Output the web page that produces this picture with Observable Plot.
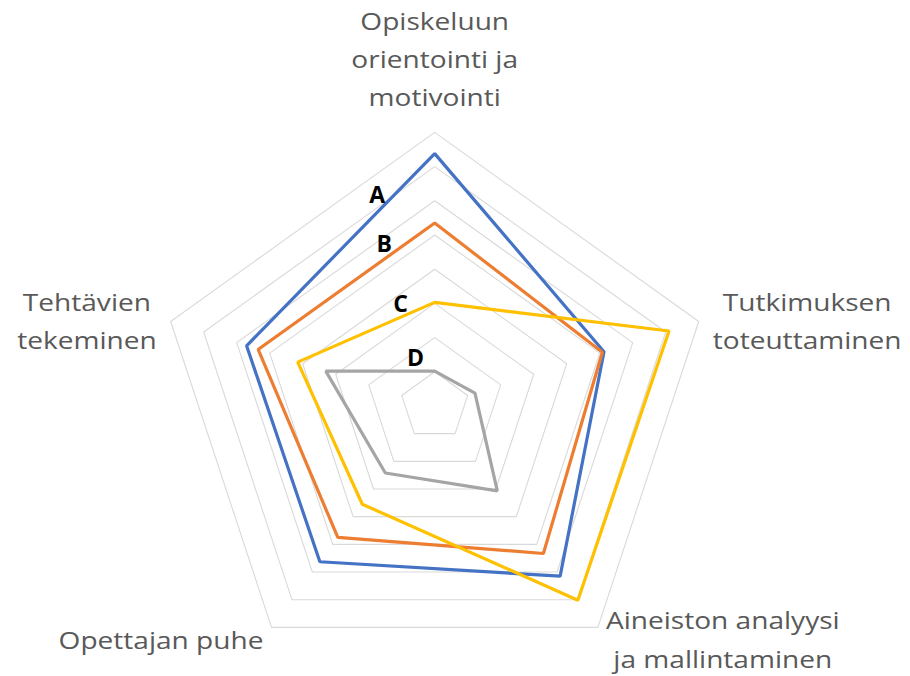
<!DOCTYPE html>
<html>
<head>
<meta charset="utf-8">
<script src="https://cdn.jsdelivr.net/npm/d3@7"></script>
<script src="https://cdn.jsdelivr.net/npm/@observablehq/plot@0.6"></script>
<style>
  html, body { margin: 0; padding: 0; background: #ffffff; }
  #chart svg { display: block; }
</style>
</head>
<body>
<div id="chart"></div>
<script>
// ---- Data ----
const categories = [
  "Opiskeluun\norientointi ja\nmotivointi",
  "Tutkimuksen\ntoteuttaminen",
  "Aineiston analyysi\nja mallintaminen",
  "Opettajan puhe",
  "Tehtävien\ntekeminen"
];
const seriesNames = ["A", "B", "C", "D"];
const valuesA = [7.38, 5.13, 6.15, 5.63, 5.70];
const valuesB = [5.35, 5.08, 5.33, 4.75, 5.35];
const valuesC = [3.03, 7.10, 7.02, 3.55, 4.15];
const valuesD = [1.02, 1.22, 3.07, 2.42, 3.30];
const gridLevels = [1, 2, 3, 4, 5, 6, 7, 8];
const seriesColors = ["#4472C4", "#ED7D31", "#FFC000", "#A5A5A5"];

// ---- Layout constants ----
const W = 910, H = 676;
const CX = 434.2, CY = 405.5;   // centre of the radar (px)
const UX = 34.7, UY = 34.2;     // px per unit
const FONT = "Open Sans";
const CAT_SIZE = 24, CAT_LH = 1.6, STRETCH = 1.17;
const LBL_SIZE = 23;

const n = categories.length;
const angle = i => 2 * Math.PI * i / n;
const toXY = (v, i) => ({x: v * Math.sin(angle(i)), y: v * Math.cos(angle(i))});
const toPx = p => [CX + UX * p.x, CY - UY * p.y];

const seriesValues = [valuesA, valuesB, valuesC, valuesD];
const seriesData = seriesNames.flatMap((s, k) =>
  seriesValues[k].map((v, i) => ({series: s, axis: categories[i], value: v, ...toXY(v, i)})));
const gridData = gridLevels.flatMap(l =>
  categories.map((c, i) => ({level: l, ...toXY(l, i)})));

// series name labels: along the edge from the top vertex toward the left vertex
const labelMarks = seriesNames.map((s, k) => {
  const vals = seriesValues[k];
  const p0 = toXY(vals[0], 0), p4 = toXY(vals[n - 1], n - 1);
  const P0 = toPx(p0), P4 = toPx(p4);
  const len = Math.hypot(P4[0] - P0[0], P4[1] - P0[1]);
  const along = Math.max(0, 0.318 * len - 15.5), off = 12;
  const t = along / len;
  const d = [(P4[0] - P0[0]) / len, (P4[1] - P0[1]) / len];
  const pt = {name: s, x: p0.x + t * (p4.x - p0.x), y: p0.y + t * (p4.y - p0.y)};
  return Plot.text([pt], {
    x: "x", y: "y", text: "name",
    dx: -d[1] * off, dy: d[0] * off,
    fontSize: LBL_SIZE, fontWeight: "bold", fill: "#000000"
  });
});

// category labels outside the outer ring
const ctx = document.createElement("canvas").getContext("2d");
ctx.font = `${CAT_SIZE}px "${FONT}"`;
const maxLevel = d3.max(gridLevels);
const catMarks = categories.map((c, i) => {
  const lines = c.split("\n");
  const w = d3.max(lines, l => ctx.measureText(l).width) * STRETCH;
  const blockH = lines.length * CAT_LH * CAT_SIZE;
  const s = Math.sin(angle(i)), co = Math.cos(angle(i));
  let dx, dy;
  if (Math.abs(s) < 0.1) {
    dx = 0;
    dy = co > 0 ? -(19 + blockH / 2) : (19 + blockH / 2);
  } else {
    const gap = co > 0 ? 14 : 8;
    dx = Math.sign(s) * (gap + w / 2);
    dy = co > 0 ? -4 : 9;
  }
  const p = {label: c, ...toXY(maxLevel, i)};
  return Plot.text([p], {
    x: "x", y: "y", text: "label",
    dx, dy, fontSize: CAT_SIZE, lineHeight: CAT_LH,
    fill: "#595959", textAnchor: "middle", lineAnchor: "middle"
  });
});

const chart = Plot.plot({
  width: W, height: H,
  margin: 0,
  style: {fontFamily: FONT, background: "#ffffff", overflow: "visible"},
  x: {domain: [0, 1], range: [CX, CX + UX], axis: null},
  y: {domain: [0, 1], range: [CY, CY - UY], axis: null},
  color: {domain: seriesNames, range: seriesColors},
  marks: [
    Plot.line(gridData, {x: "x", y: "y", z: "level", curve: "linear-closed",
      stroke: "#d9d9d9", strokeWidth: 1.1}),
    Plot.line(seriesData, {x: "x", y: "y", z: "series", stroke: "series",
      curve: "linear-closed", strokeWidth: 3.2, strokeLinejoin: "miter"}),
    ...labelMarks,
    ...catMarks
  ]
});

// stretch the category labels horizontally, as in the reference rendering
chart.querySelectorAll('g[aria-label="text"]').forEach(g => {
  if (g.getAttribute("font-weight") === "bold") return;
  g.querySelectorAll("text").forEach(t => {
    const tr = t.getAttribute("transform") || "";
    t.setAttribute("transform", `${tr} scale(${STRETCH},1)`);
  });
});

document.getElementById("chart").appendChild(chart);
</script>
</body>
</html>
